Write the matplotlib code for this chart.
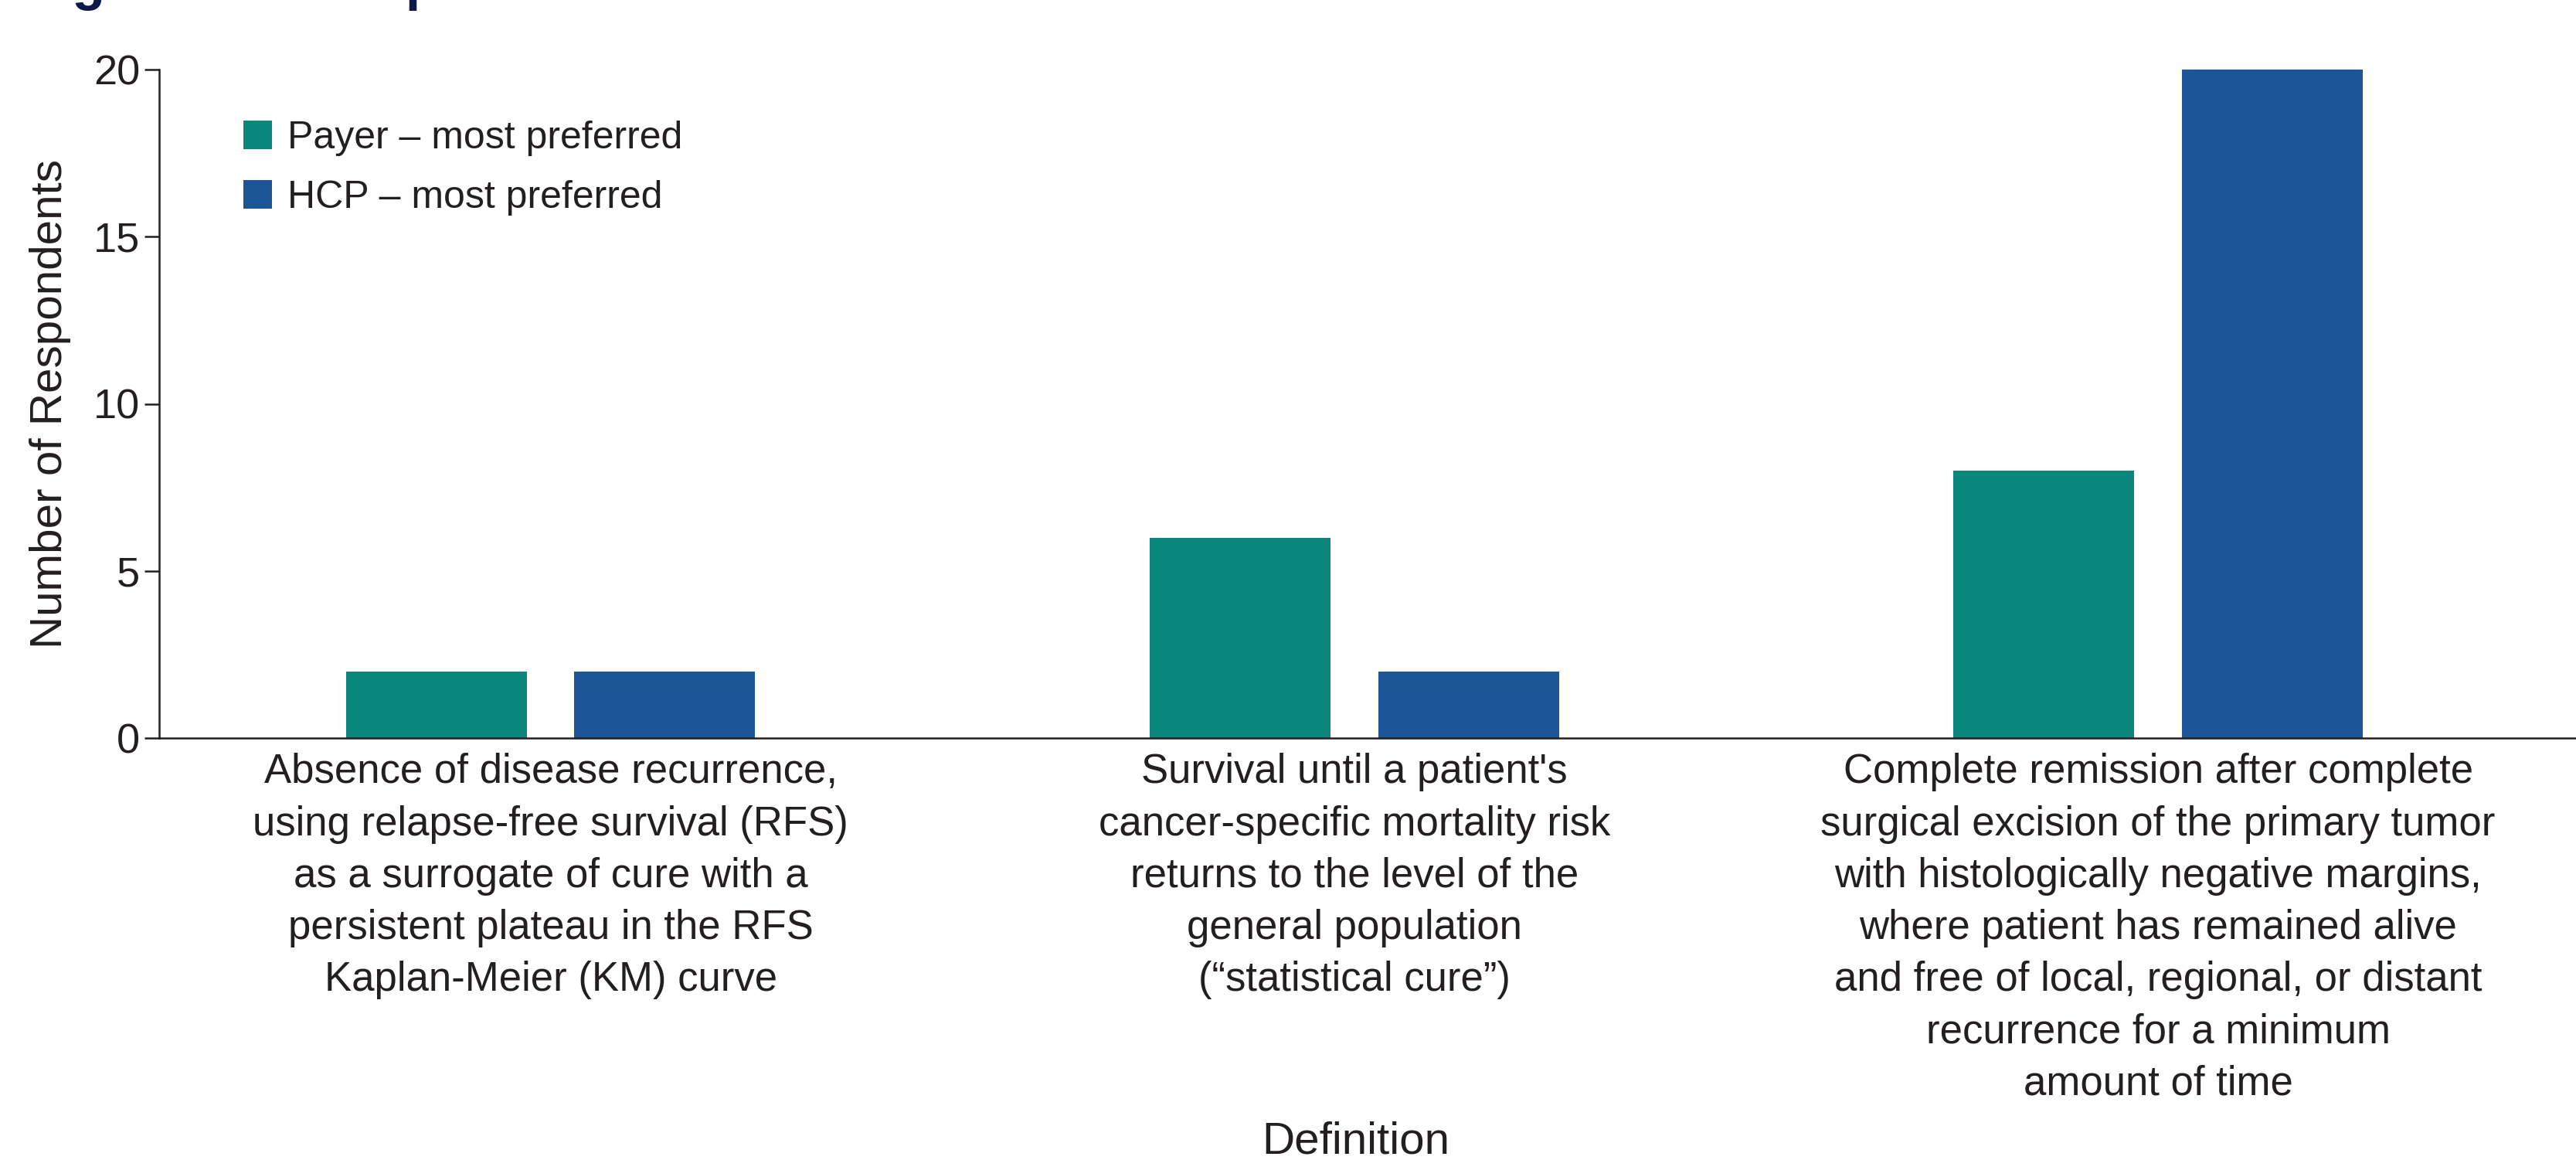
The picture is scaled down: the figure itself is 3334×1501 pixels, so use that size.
import numpy as np
import matplotlib
matplotlib.use("Agg")
import matplotlib.pyplot as plt
from matplotlib.patches import Patch

# Survey counts per definition of cure
definitions = [
    "Absence of disease recurrence,\nusing relapse-free survival (RFS)\nas a surrogate of cure with a\npersistent plateau in the RFS\nKaplan-Meier (KM) curve",
    "Survival until a patient's\ncancer-specific mortality risk\nreturns to the level of the\ngeneral population\n(\u201cstatistical cure\u201d)",
    "Complete remission after complete\nsurgical excision of the primary tumor\nwith histologically negative margins,\nwhere patient has remained alive\nand free of local, regional, or distant\nrecurrence for a minimum\namount of time",
]
payer_counts = [2, 6, 8]
hcp_counts = [2, 2, 20]
series_labels = ["Payer \u2013 most preferred", "HCP \u2013 most preferred"]
y_ticks = [0, 5, 10, 15, 20]

TEAL = "#0b877d"
BLUE = "#1b5598"
INK = "#231f20"
NAVY = "#0b1a48"

plt.rcParams["font.family"] = ["Liberation Sans", "DejaVu Sans"]
plt.rcParams["text.color"] = INK
plt.rcParams["axes.labelcolor"] = INK

fig = plt.figure(figsize=(33.34, 15.01), dpi=100)
ax = fig.add_axes([206 / 3334, 1 - 955 / 1501, 1 - 206 / 3334, 865 / 1501])

x = np.arange(len(definitions))
width = 0.225
offset = 0.142
ax.bar(x - offset, payer_counts, width, color=TEAL, zorder=2)
ax.bar(x + offset, hcp_counts, width, color=BLUE, zorder=2)

ax.set_xlim(-0.487, 2.52)
ax.set_ylim(0, 20)
ax.set_yticks(y_ticks)
ax.set_xticks(x)
ax.set_xticklabels(definitions, fontsize=38, linespacing=1.44, ha="center", va="top")

for side in ["top", "right"]:
    ax.spines[side].set_visible(False)
for side in ["left", "bottom"]:
    ax.spines[side].set_linewidth(1.8)
    ax.spines[side].set_color(INK)

ax.tick_params(axis="y", direction="out", length=13.7, width=1.8, color=INK,
               labelsize=39, labelcolor=INK, pad=4)
ax.tick_params(axis="x", length=0, pad=14, labelcolor=INK)

ax.set_ylabel("Number of Respondents", fontsize=42)
ax.yaxis.set_label_coords(-0.0364, 0.5)
ax.set_xlabel("Definition", fontsize=42)
ax.xaxis.set_label_coords(0.495, -0.573)

handles = [Patch(facecolor=TEAL, edgecolor="none"), Patch(facecolor=BLUE, edgecolor="none")]
fig.legend(handles, series_labels, loc="upper left",
           bbox_to_anchor=(315 / 3334, 1 - 156 / 1501),
           frameon=False, fontsize=36, handlelength=0.74, handleheight=0.74,
           handletextpad=0.4, labelspacing=0.62, borderpad=0, borderaxespad=0)

# figure heading, mostly cropped off the top edge
fig.text(31 / 3334, 1 + 1.5 / 1501, "Figure 3. Most preferred definition of cure",
         fontsize=50.4, fontweight="bold", color=NAVY, ha="left", va="baseline")

fig.savefig("out.png", dpi=100)
